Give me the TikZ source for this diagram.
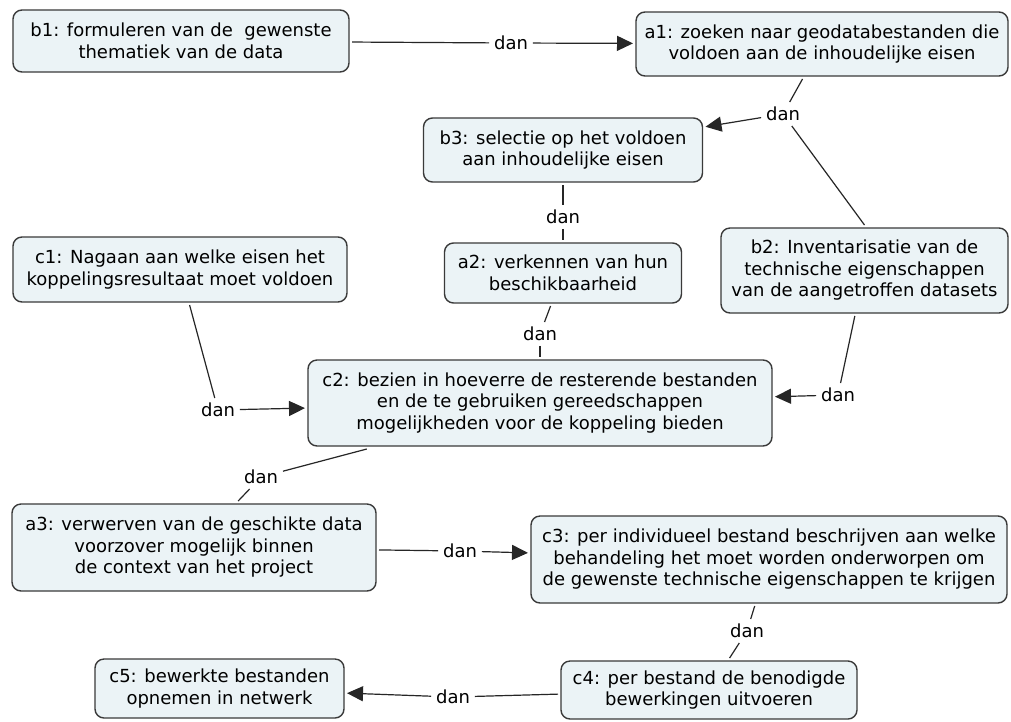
\documentclass[tikz,border=0pt]{standalone}
\usepackage{fontspec}
\setmainfont{DejaVu Sans}
\usetikzlibrary{arrows.meta}
\definecolor{boxfill}{HTML}{EBF3F6}
\definecolor{boxline}{HTML}{3A3A3A}
\tikzset{
  box/.style={draw=boxline, fill=boxfill, line width=1.4pt, rounded corners=9pt,
    align=center, inner sep=0pt, outer sep=3pt, font=\fontsize{18}{21.5}\selectfont},
  lab/.style={inner sep=2pt, outer sep=3pt, font=\fontsize{18}{21.5}\selectfont},
  link/.style={draw=black!85, line width=1.2pt},
  arr/.style={link, -{Triangle[length=16pt,width=15pt]}}
}
\begin{document}
\begin{tikzpicture}[x=1pt,y=-1pt]
\fill[white] (0,0) rectangle (1011,721);
\useasboundingbox (0,0) rectangle (1011,721);
% nodes
\node[box, minimum width=336pt, minimum height=62pt] (b1) at (181,41) {b1: formuleren van de\ \ gewenste\\thematiek van de data};
\node[box, minimum width=372pt, minimum height=64pt] (a1) at (822,44) {a1: zoeken naar geodatabestanden die\\voldoen aan de inhoudelijke eisen};
\node[box, minimum width=279pt, minimum height=64pt] (b3) at (563,150) {b3: selectie op het voldoen\\aan inhoudelijke eisen};
\node[box, minimum width=237pt, minimum height=60pt] (a2) at (563,273) {a2: verkennen van hun\\beschikbaarheid};
\node[box, minimum width=287pt, minimum height=85pt] (b2) at (864.5,270.5) {b2: Inventarisatie van de\\technische eigenschappen\\van de aangetroffen datasets};
\node[box, minimum width=334pt, minimum height=65pt] (c1) at (180,269.5) {c1: Nagaan aan welke eisen het\\koppelingsresultaat moet voldoen};
\node[box, minimum width=464pt, minimum height=86pt] (c2) at (540,403) {c2: bezien in hoeverre de resterende bestanden\\en de te gebruiken gereedschappen\\mogelijkheden voor de koppeling bieden};
\node[box, minimum width=364pt, minimum height=87pt] (a3) at (194,547.5) {a3: verwerven van de geschikte data\\voorzover mogelijk binnen\\de context van het project};
\node[box, minimum width=476pt, minimum height=87pt] (c3) at (769,559.5) {c3: per individueel bestand beschrijven aan welke\\behandeling het moet worden onderworpen om\\de gewenste technische eigenschappen te krijgen};
\node[box, minimum width=296pt, minimum height=58pt] (c4) at (709,690) {c4: per bestand de benodigde\\bewerkingen uitvoeren};
\node[box, minimum width=249pt, minimum height=59pt] (c5) at (219.5,688.5) {c5: bewerkte bestanden\\opnemen in netwerk};
% labels
\node[lab] (L1) at (511,43) {dan};
\node[lab] (L2) at (783,114) {dan};
\node[lab] (L3) at (563,217) {dan};
\node[lab] (L4) at (540,334) {dan};
\node[lab] (L5) at (838,395) {dan};
\node[lab] (L6) at (218,410) {dan};
\node[lab] (L7) at (261,477) {dan};
\node[lab] (L8) at (460,551) {dan};
\node[lab] (L9) at (747,631) {dan};
\node[lab] (L10) at (453,697) {dan};
% connectors
\draw[link] (b1) -- (L1);
\draw[arr] (L1) -- (a1);
\draw[link] (a1) -- (L2);
\draw[arr] (L2) -- (b3);
\draw[link] (L2) -- (b2.north);
\draw[link] (b3) -- (L3);
\draw[link] (L3) -- (a2);
\draw[link] (a2) -- (L4);
\draw[link] (L4) -- (c2);
\draw[link] (b2) -- (L5);
\draw[arr] (L5) -- (c2);
\draw[link] (c1) -- (L6);
\draw[arr] (L6) -- (c2);
\draw[link] (c2) -- (L7);
\draw[link] (L7) -- (a3);
\draw[link] (a3) -- (L8);
\draw[arr] (L8) -- (c3);
\draw[link] (c3) -- (L9);
\draw[link] (L9) -- (c4);
\draw[link] (c4) -- (L10);
\draw[arr] (L10) -- (c5);
\end{tikzpicture}
\end{document}
